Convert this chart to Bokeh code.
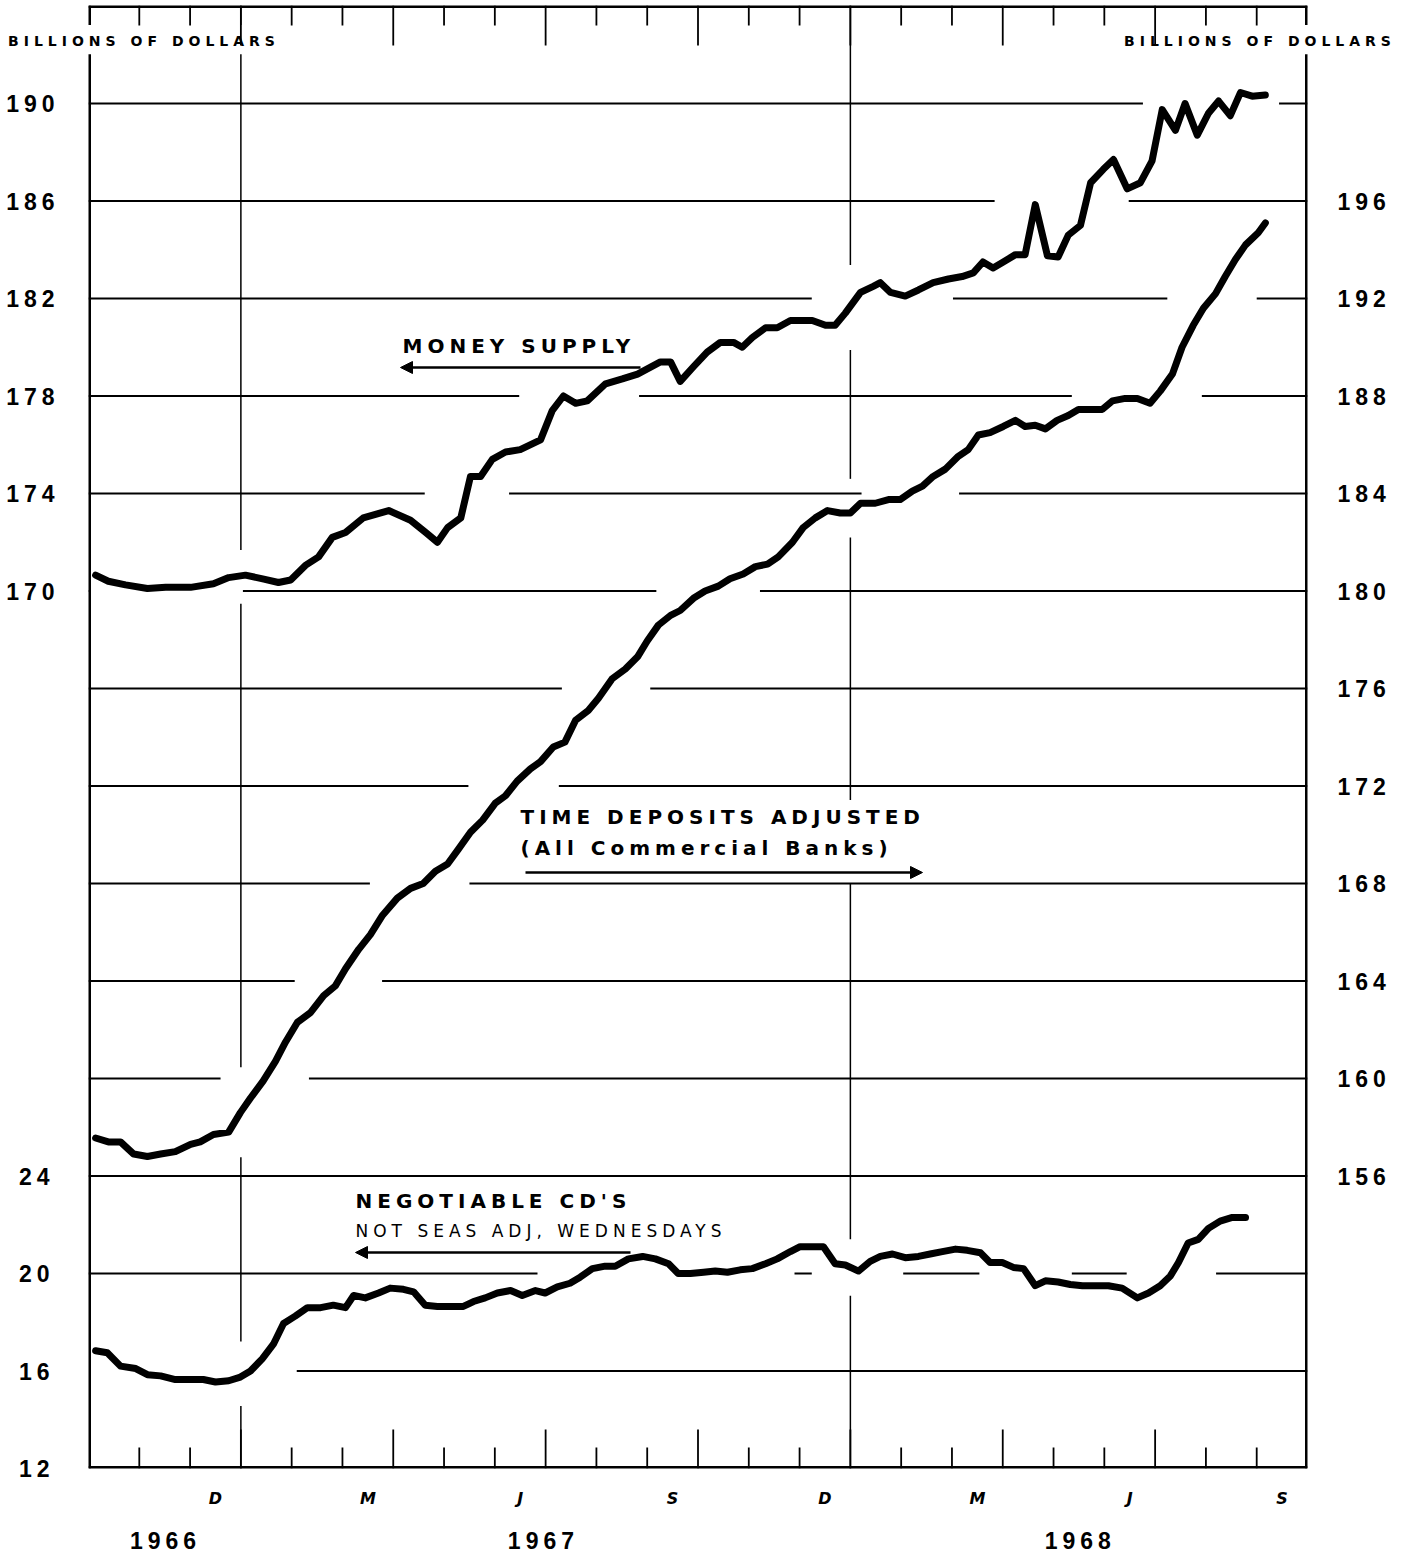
import numpy as np
from bokeh.plotting import figure
from bokeh.models import Range1d, LinearAxis, FixedTicker, Label, Arrow, NormalHead
from bokeh.embed import file_html
from bokeh.resources import INLINE

# ---------------- data (time in months since 1 Jan 1967) ----------------
ms_t = [-2.86, -2.61, -2.27, -1.84, -1.48, -0.99, -0.54, -0.24, 0.09, 0.43,
        0.74, 0.98, 1.27, 1.53, 1.80, 2.06, 2.41, 2.91, 3.34, 3.64,
        3.87, 4.07, 4.33, 4.52, 4.72, 4.95, 5.21, 5.50, 5.90, 6.13,
        6.35, 6.59, 6.82, 7.18, 7.51, 7.81, 8.26, 8.46, 8.65, 8.91,
        9.18, 9.44, 9.70, 9.87, 10.07, 10.33, 10.56, 10.82, 11.07, 11.25,
        11.51, 11.70, 11.90, 12.20, 12.45, 12.59, 12.79, 13.08, 13.34, 13.63,
        13.93, 14.20, 14.42, 14.61, 14.81, 15.01, 15.25, 15.44, 15.64, 15.88,
        16.09, 16.29, 16.53, 16.73, 16.98, 17.18, 17.45, 17.71, 17.94, 18.14,
        18.40, 18.59, 18.83, 19.05, 19.25, 19.48, 19.68, 19.91, 20.17]
ms_v = [170.65, 170.4, 170.25, 170.1, 170.15, 170.15, 170.3, 170.55, 170.65, 170.5,
        170.35, 170.45, 171.05, 171.4, 172.2, 172.4, 173.0, 173.3, 172.9, 172.4,
        172.0, 172.6, 173.0, 174.7, 174.7, 175.4, 175.7, 175.8, 176.2, 177.4,
        178.0, 177.7, 177.8, 178.5, 178.7, 178.9, 179.4, 179.4, 178.6, 179.2,
        179.8, 180.2, 180.2, 180.0, 180.4, 180.8, 180.8, 181.1, 181.1, 181.1,
        180.9, 180.9, 181.4, 182.25, 182.5, 182.65, 182.25, 182.1, 182.35, 182.65,
        182.8, 182.9, 183.05, 183.5, 183.25, 183.5, 183.8, 183.8, 185.85, 183.75,
        183.7, 184.6, 185.0, 186.75, 187.3, 187.7, 186.5, 186.75, 187.65, 189.75,
        188.9, 190.0, 188.7, 189.6, 190.1, 189.5, 190.45, 190.3, 190.35]

td_t = [-2.86, -2.61, -2.37, -2.11, -1.84, -1.58, -1.29, -0.99, -0.80, -0.54,
        -0.24, -0.01, 0.19, 0.44, 0.68, 0.88, 1.11, 1.37, 1.63, 1.86,
        2.06, 2.32, 2.55, 2.79, 3.08, 3.34, 3.59, 3.83, 4.07, 4.28,
        4.52, 4.76, 5.01, 5.21, 5.44, 5.70, 5.90, 6.15, 6.38, 6.59,
        6.84, 7.04, 7.31, 7.57, 7.81, 8.00, 8.22, 8.46, 8.65, 8.91,
        9.14, 9.40, 9.63, 9.89, 10.13, 10.37, 10.58, 10.86, 11.07, 11.31,
        11.55, 11.80, 12.00, 12.20, 12.49, 12.75, 12.98, 13.22, 13.42, 13.63,
        13.87, 14.11, 14.32, 14.52, 14.75, 15.01, 15.25, 15.44, 15.64, 15.84,
        16.07, 16.29, 16.49, 16.72, 16.96, 17.16, 17.41, 17.65, 17.90, 18.10,
        18.34, 18.53, 18.75, 18.95, 19.19, 19.38, 19.58, 19.78, 20.03, 20.17]
td_v = [157.56, 157.4, 157.4, 156.9, 156.8, 156.9, 157.0, 157.3, 157.4, 157.7,
        157.8, 158.6, 159.2, 159.9, 160.7, 161.5, 162.3, 162.7, 163.4, 163.8,
        164.5, 165.3, 165.9, 166.7, 167.4, 167.8, 168.0, 168.5, 168.8, 169.4,
        170.1, 170.6, 171.3, 171.6, 172.2, 172.7, 173.0, 173.6, 173.8, 174.7,
        175.1, 175.6, 176.4, 176.8, 177.3, 177.95, 178.6, 179.0, 179.2, 179.7,
        180.0, 180.2, 180.5, 180.7, 181.0, 181.1, 181.4, 182.0, 182.6, 183.0,
        183.3, 183.2, 183.2, 183.6, 183.6, 183.75, 183.75, 184.1, 184.3, 184.7,
        185.0, 185.5, 185.8, 186.4, 186.5, 186.75, 187.0, 186.75, 186.8, 186.65,
        187.0, 187.2, 187.45, 187.45, 187.45, 187.8, 187.9, 187.9, 187.7, 188.2,
        188.9, 190.0, 190.9, 191.6, 192.2, 192.9, 193.6, 194.2, 194.7, 195.1]

cd_t = [-2.86, -2.63, -2.37, -2.07, -1.84, -1.58, -1.29, -0.99, -0.74, -0.50,
        -0.24, -0.01, 0.19, 0.42, 0.64, 0.84, 1.07, 1.31, 1.57, 1.82,
        2.06, 2.22, 2.45, 2.71, 2.94, 3.20, 3.40, 3.63, 3.87, 4.13,
        4.38, 4.58, 4.81, 5.05, 5.31, 5.54, 5.80, 5.99, 6.23, 6.48,
        6.68, 6.92, 7.17, 7.37, 7.63, 7.91, 8.16, 8.42, 8.61, 8.85,
        9.11, 9.34, 9.58, 9.83, 10.07, 10.33, 10.56, 10.82, 11.01, 11.25,
        11.47, 11.70, 11.90, 12.16, 12.39, 12.59, 12.83, 13.08, 13.34, 13.57,
        13.81, 14.07, 14.30, 14.56, 14.75, 14.99, 15.21, 15.41, 15.64, 15.84,
        16.09, 16.33, 16.57, 16.82, 17.08, 17.35, 17.65, 17.87, 18.10, 18.30,
        18.46, 18.65, 18.85, 19.05, 19.28, 19.52, 19.78]
cd_v = [16.83, 16.75, 16.2, 16.1, 15.85, 15.8, 15.65, 15.65, 15.65, 15.55,
        15.6, 15.75, 16.0, 16.5, 17.1, 17.95, 18.25, 18.6, 18.6, 18.7,
        18.6, 19.1, 19.0, 19.2, 19.4, 19.35, 19.25, 18.7, 18.65, 18.65,
        18.65, 18.85, 19.0, 19.2, 19.3, 19.1, 19.3, 19.2, 19.45, 19.6,
        19.85, 20.2, 20.3, 20.3, 20.6, 20.7, 20.6, 20.4, 20.0, 20.0,
        20.05, 20.1, 20.05, 20.15, 20.2, 20.4, 20.6, 20.9, 21.1, 21.1,
        21.1, 20.4, 20.35, 20.1, 20.5, 20.7, 20.8, 20.65, 20.7, 20.8,
        20.9, 21.0, 20.95, 20.85, 20.45, 20.45, 20.25, 20.2, 19.5, 19.7,
        19.65, 19.55, 19.5, 19.5, 19.5, 19.4, 19.0, 19.2, 19.5, 19.9,
        20.45, 21.25, 21.4, 21.85, 22.15, 22.3, 22.3]

money_ticks = [170, 174, 178, 182, 186, 190]
cd_ticks = [12, 16, 20, 24]
td_ticks = [156, 160, 164, 168, 172, 176, 180, 184, 188, 192, 196]
month_pos = [-0.5, 2.5, 5.5, 8.5, 11.5, 14.5, 17.5, 20.5]
month_labels = ["D", "M", "J", "S", "D", "M", "J", "S"]
year_pos = [-1.68, 5.76, 16.33]
year_labels = ["1966", "1967", "1968"]

MS_OFF = 10    # money supply scale = right-hand scale - 10
CD_OFF = 132   # CD scale = right-hand scale - 132

# ---------------- geometry ----------------
FONT = "DejaVu Sans"
NUMFONT = "Liberation Sans"
W, H = 1403, 1558
ML, MR, MT, MB = 88, 96, 5, 90
PXU = 24.375                     # pixels per billion
x0, x1 = -3, 21
y0 = 144
y1 = y0 + (H - MT - MB) / PXU
PXM = (W - ML - MR) / (x1 - x0)  # pixels per month

p = figure(width=W, height=H, x_range=Range1d(x0, x1), y_range=Range1d(y0, y1),
           output_backend="svg", toolbar_location=None,
           min_border_left=ML, min_border_right=MR,
           min_border_top=MT, min_border_bottom=MB)
p.extra_y_ranges = {"ms": Range1d(y0 - MS_OFF, y1 - MS_OFF),
                    "cd": Range1d(y0 - CD_OFF, y1 - CD_OFF),
                    "page": Range1d(H - MB, MT)}
p.extra_x_ranges = {"page": Range1d(ML, W - MR)}
p.xgrid.visible = False
p.ygrid.visible = False
p.outline_line_color = None
p.background_fill_color = "white"
p.border_fill_color = "white"
p.styles = {"letter-spacing": "5px"}


def style_axis(ax, size, standoff, fstyle="bold", font=NUMFONT):
    ax.axis_line_color = None
    ax.major_tick_line_color = None
    ax.minor_tick_line_color = None
    ax.major_tick_out = 0
    ax.major_tick_in = 0
    ax.major_label_text_font = font
    ax.major_label_text_font_size = size
    ax.major_label_text_font_style = fstyle
    ax.major_label_standoff = standoff
    ax.major_label_text_color = "black"


# left axis (money supply on top, CDs at bottom)
ya = p.yaxis[0]
ya.ticker = FixedTicker(ticks=[c + CD_OFF for c in cd_ticks] + [m + MS_OFF for m in money_ticks])
over = {c + CD_OFF: str(c) for c in cd_ticks}
over.update({m + MS_OFF: str(m) for m in money_ticks})
ya.major_label_overrides = over
style_axis(ya, "23px", 44)

# right axis (time deposits)
ra = LinearAxis(ticker=FixedTicker(ticks=td_ticks))
style_axis(ra, "23px", 30)
p.add_layout(ra, "right")

# bottom axes: month letters, then years
xa = p.xaxis[0]
xa.ticker = FixedTicker(ticks=month_pos)
xa.major_label_overrides = {m: l for m, l in zip(month_pos, month_labels)}
style_axis(xa, "16px", 20, "bold italic", FONT)

yr = LinearAxis(ticker=FixedTicker(ticks=year_pos))
yr.major_label_overrides = {m: l for m, l in zip(year_pos, year_labels)}
style_axis(yr, "23px", 21)
p.add_layout(yr, "below")

# unit captions at the top corners
unit_pos = [96, 1212]
ua = LinearAxis(x_range_name="page", ticker=FixedTicker(ticks=unit_pos))
ua.major_label_overrides = {u: "BILLIONS OF DOLLARS" for u in unit_pos}
style_axis(ua, "14px", -43, "bold", FONT)
p.add_layout(ua, "above")

# ---------------- text items (page pixels) ----------------
texts = [("MONEY SUPPLY", 402, 345, 20, "bold"),
         ("TIME DEPOSITS ADJUSTED", 520, 816, 20, "bold"),
         ("(All Commercial Banks)", 520, 847, 20, "bold"),
         ("NEGOTIABLE CD'S", 355, 1200, 20, "bold"),
         ("NOT SEAS ADJ, WEDNESDAYS", 355, 1230, 17, "normal")]
arrows = [(640, 400, 367), (525, 922, 872), (630, 355, 1252)]

# areas where the ruling is interrupted by lettering
boxes = [(6, 272, 25, 53), (1125, 1390, 25, 53)]
for t, px, py, sz, st in texts:
    boxes.append((px - 6, px + len(t) * (0.62 * sz + 5) + 6, py - 16, py + 16))
for a, b, py in arrows:
    boxes.append((min(a, b) - 4, max(a, b) + 4, py - 10, py + 10))


# ---------------- ruling with breaks where curves and lettering pass ----------------
def dense(t, v, off):
    tt = np.arange(t[0], t[-1], 0.02)
    return tt, np.interp(tt, t, v) + off


parts = [dense(ms_t, ms_v, MS_OFF), dense(td_t, td_v, 0), dense(cd_t, cd_v, CD_OFF)]
CT = np.concatenate([q[0] for q in parts])
CR = np.concatenate([q[1] for q in parts])


def runs(xs, ys, wx, wy, curves=True):
    pxs = ML + (xs - x0) * PXM
    pys = MT + (y1 - ys) * PXU
    vis = []
    for x, y, qx, qy in zip(xs, ys, pxs, pys):
        hit = curves and np.any((np.abs(CT - x) < wx) & (np.abs(CR - y) < wy))
        hit = hit or any(bx0 <= qx <= bx1 and by0 <= qy <= by1 for bx0, bx1, by0, by1 in boxes)
        vis.append(not hit)
    segs, start = [], None
    for i, v in enumerate(vis):
        if v and start is None:
            start = i
        if start is not None and (not v or i == len(vis) - 1):
            end = i if v else i - 1
            if end > start:
                segs.append((start, end))
            start = None
    return segs


# horizontal rulings
gx, gy = [], []
hx = np.linspace(x0, x1, 1201)
for lvl in range(148, 201, 4):
    hy = np.full_like(hx, float(lvl))
    for a, b in runs(hx, hy, 0.8, 0.22):
        gx.append([hx[a], hx[b]])
        gy.append([lvl, lvl])
p.multi_line(gx, gy, line_color="black", line_width=2)

# year division lines
vx, vy = [], []
vys = np.linspace(y0, y1, 1500)
for yrs in (0, 12):
    vxs = np.full_like(vys, float(yrs))
    for a, b in runs(vxs, vys, 0.3, 1.0):
        vx.append([yrs, yrs])
        vy.append([vys[a], vys[b]])
p.multi_line(vx, vy, line_color="black", line_width=1.5)

# frame (drawn on the frame edge, so half of the width shows)
fx, fy = [[x0, x1], [x0, x1]], [[y0, y0], [y1, y1]]
for edge in (x0, x1):
    exs = np.full_like(vys, float(edge))
    for a, b in runs(exs, vys, 0, 0, curves=False):
        fx.append([edge, edge])
        fy.append([vys[a], vys[b]])
p.multi_line(fx, fy, line_color="black", line_width=5)

# month tick marks (longer at quarter boundaries)
bnd = [b for b in range(x0 + 1, x1)]
tl = [(40 if b % 3 == 0 else 20) / PXU for b in bnd]
p.segment(x0=bnd, y0=[y1] * len(bnd), x1=bnd, y1=[y1 - l for l in tl],
          line_color="black", line_width=1.8)
bl = [(39 if b % 3 == 0 else 21) / PXU for b in bnd]
p.segment(x0=bnd, y0=[y0] * len(bnd), x1=bnd, y1=[y0 + l for l in bl],
          line_color="black", line_width=1.8)

# ---------------- series ----------------
kw = dict(line_color="black", line_width=7, line_join="round", line_cap="round")
p.line(ms_t, ms_v, y_range_name="ms", **kw)
p.line(td_t, td_v, **kw)
p.line(cd_t, cd_v, y_range_name="cd", **kw)

# ---------------- annotations ----------------
for t, px, py, sz, st in texts:
    p.add_layout(Label(x=px, y=py, x_range_name="page", y_range_name="page",
                       text=t, text_font=FONT, text_font_size=f"{sz}px",
                       text_font_style=st, text_align="left", text_baseline="middle",
                       text_color="black"))

for a, b, py in arrows:
    p.add_layout(Arrow(x_start=a, y_start=py, x_end=b, y_end=py,
                       x_range_name="page", y_range_name="page",
                       line_color="black", line_width=2.5,
                       end=NormalHead(size=12, fill_color="black", line_color="black")))

open("out.html", "w").write(file_html(p, INLINE))
